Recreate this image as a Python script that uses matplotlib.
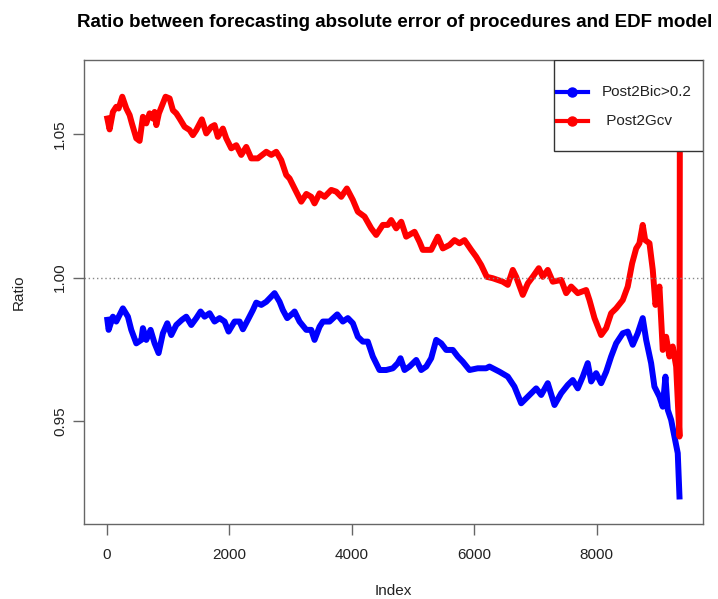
import matplotlib
matplotlib.use("Agg")
import matplotlib.pyplot as plt
from matplotlib.patches import Rectangle
from matplotlib.lines import Line2D

plt.rcParams['font.family'] = ['Liberation Sans', 'DejaVu Sans']

# Post2Bic>0.2 ratio
bic_idx = [7, 28, 98, 153, 261, 343, 398, 480, 562, 588, 643, 713, 779, 844, 914,
           986, 1051, 1133, 1225, 1296, 1378, 1460, 1530, 1595, 1677, 1758, 1840,
           1922, 1987, 2085, 2167, 2221, 2302, 2384, 2439, 2521, 2603, 2738, 2820,
           2874, 2945, 3037, 3065, 3146, 3256, 3337, 3391, 3473, 3527, 3636, 3762,
           3853, 3935, 4017, 4098, 4180, 4261, 4343, 4452, 4562, 4670, 4751, 4795,
           4861, 4942, 5052, 5133, 5215, 5296, 5378, 5460, 5541, 5649, 5731, 5812,
           5922, 6057, 6194, 6248, 6411, 6547, 6656, 6766, 6874, 7011, 7093, 7200,
           7310, 7419, 7527, 7608, 7690, 7772, 7853, 7909, 7990, 8072, 8154, 8235,
           8317, 8425, 8506, 8588, 8669, 8751, 8807, 8888, 8942, 9024, 9078, 9122,
           9160, 9215, 9269, 9323, 9351]
bic_val = [0.9853, 0.9818, 0.9864, 0.9847, 0.9893, 0.9864, 0.9818, 0.9771, 0.9783,
           0.9824, 0.9783, 0.9818, 0.9771, 0.9737, 0.9806, 0.9841, 0.9800, 0.9835,
           0.9853, 0.9864, 0.9835, 0.9859, 0.9882, 0.9864, 0.9876, 0.9847, 0.9859,
           0.9847, 0.9812, 0.9847, 0.9847, 0.9820, 0.9853, 0.9887, 0.9913, 0.9905,
           0.9916, 0.9946, 0.9916, 0.9887, 0.9859, 0.9876, 0.9882, 0.9847, 0.9818,
           0.9818, 0.9783, 0.9829, 0.9847, 0.9847, 0.9872, 0.9847, 0.9859, 0.9841,
           0.9794, 0.9777, 0.9777, 0.9725, 0.9678, 0.9678, 0.9684, 0.9702, 0.9719,
           0.9678, 0.9690, 0.9713, 0.9678, 0.9690, 0.9719, 0.9783, 0.9771, 0.9748,
           0.9748, 0.9725, 0.9707, 0.9678, 0.9684, 0.9684, 0.9690, 0.9672, 0.9655,
           0.9620, 0.9562, 0.9585, 0.9614, 0.9591, 0.9632, 0.9556, 0.9597, 0.9626,
           0.9643, 0.9614, 0.9655, 0.9702, 0.9638, 0.9667, 0.9632, 0.9672, 0.9725,
           0.9771, 0.9806, 0.9812, 0.9766, 0.9806, 0.9859, 0.9783, 0.9702, 0.9620,
           0.9585, 0.9550, 0.9655, 0.9539, 0.9504, 0.9446, 0.9388, 0.9237]

# Post2Gcv ratio
gcv_idx = [7, 44, 98, 153, 191, 251, 317, 371, 408, 480, 534, 588, 643, 697, 751,
           779, 807, 849, 958, 1024, 1078, 1133, 1187, 1269, 1350, 1404, 1460, 1551,
           1623, 1705, 1758, 1812, 1894, 1949, 2031, 2113, 2194, 2276, 2358, 2465,
           2603, 2684, 2766, 2847, 2929, 2983, 3065, 3174, 3257, 3337, 3391, 3473,
           3555, 3664, 3745, 3827, 3919, 4017, 4098, 4208, 4317, 4398, 4506, 4588,
           4643, 4725, 4807, 4888, 5024, 5105, 5159, 5296, 5404, 5486, 5595, 5677,
           5758, 5840, 5949, 6031, 6113, 6204, 6302, 6465, 6547, 6629, 6684, 6792,
           6874, 6955, 7053, 7119, 7200, 7282, 7419, 7501, 7582, 7690, 7827, 7881,
           7963, 8072, 8154, 8235, 8317, 8425, 8506, 8578, 8644, 8697, 8751, 8791,
           8861, 8915, 8959, 9024, 9078, 9133, 9187, 9241, 9297, 9351, 9358]
gcv_val = [1.0555, 1.0517, 1.0578, 1.0596, 1.0590, 1.0631, 1.0590, 1.0567, 1.0538,
           1.0486, 1.0477, 1.0561, 1.0538, 1.0573, 1.0555, 1.0578, 1.0532, 1.0573,
           1.0631, 1.0625, 1.0584, 1.0573, 1.0555, 1.0526, 1.0515, 1.0497, 1.0515,
           1.0552, 1.0503, 1.0526, 1.0532, 1.0491, 1.0520, 1.0486, 1.0451, 1.0462,
           1.0428, 1.0456, 1.0416, 1.0416, 1.0439, 1.0428, 1.0439, 1.0410, 1.0358,
           1.0346, 1.0311, 1.0265, 1.0292, 1.0282, 1.0259, 1.0294, 1.0282, 1.0306,
           1.0300, 1.0282, 1.0311, 1.0271, 1.0230, 1.0213, 1.0172, 1.0149, 1.0184,
           1.0184, 1.0201, 1.0172, 1.0195, 1.0143, 1.0160, 1.0125, 1.0097, 1.0097,
           1.0143, 1.0102, 1.0114, 1.0131, 1.0120, 1.0131, 1.0097, 1.0073, 1.0044,
           1.0003, 0.9998, 0.9986, 0.9975, 1.0027, 1.0003, 0.9940, 0.9980, 1.0003,
           1.0033, 1.0003, 1.0027, 0.9986, 0.9992, 0.9946, 0.9969, 0.9946, 0.9957,
           0.9922, 0.9859, 0.9800, 0.9824, 0.9876, 0.9893, 0.9922, 0.9969, 1.0050,
           1.0102, 1.0120, 1.0184, 1.0131, 1.0120, 1.0027, 0.9905, 0.9969, 0.9748,
           0.9794, 0.9725, 0.9760, 0.9690, 0.9446, 1.0690]

series_names = ["Post2Bic>0.2", " Post2Gcv"]
series_colors = ["blue", "red"]
x_ticks = [0, 2000, 4000, 6000, 8000]
y_ticks = [0.95, 1.00, 1.05]

fig = plt.figure(figsize=(7.18, 5.99), dpi=100)
ax = fig.add_axes([0.117, 0.1252, 0.862, 0.7746])

ax.plot(bic_idx, bic_val, color=series_colors[0], lw=4.3, solid_joinstyle='round')
ax.plot(gcv_idx, gcv_val, color=series_colors[1], lw=4.3, solid_joinstyle='round')
ax.axhline(1.0, color='#888888', lw=1, ls=(0, (1, 2)))

ax.set_xlim(-374, 9734)
ax.set_ylim(0.9141, 1.0759)
ax.set_xticks(x_ticks)
ax.set_xticklabels([str(t) for t in x_ticks])
ax.set_yticks(y_ticks)
ax.set_yticklabels(["%.2f" % t for t in y_ticks], rotation=90, va='center')
ax.tick_params(direction='out', length=8, width=1, color='#666666', labelsize=11,
               labelcolor='#222222')
ax.tick_params(axis='x', pad=9)
ax.tick_params(axis='y', pad=4)
for s in ax.spines.values():
    s.set_color('#666666')
    s.set_linewidth(1)

ax.set_xlabel("Index", fontsize=11, labelpad=16, color='#222222')
ax.set_ylabel("Ratio", fontsize=11, labelpad=20, color='#222222')
fig.text(0.55, 0.963, "Ratio between forecasting absolute error of procedures and EDF model",
         ha='center', va='center', fontsize=13.5, fontweight='bold')

# legend box drawn like R's legend()
ax.add_patch(Rectangle((0.759, 0.804), 0.241, 0.196, transform=ax.transAxes,
                       facecolor='white', edgecolor='#333333', lw=1, zorder=5))
row_y = [0.931, 0.869]
text_x = [0.837, 0.837]
for name, col, yy, tx in zip(series_names, series_colors, row_y, text_x):
    ax.add_line(Line2D([0.764, 0.814], [yy, yy], transform=ax.transAxes, color=col,
                       lw=3, zorder=6))
    ax.add_line(Line2D([0.789], [yy], transform=ax.transAxes, color=col, marker='o',
                       markersize=6.5, zorder=6))
    ax.text(tx, yy, name, transform=ax.transAxes, fontsize=11, va='center',
            ha='left', color='#222222', zorder=7)

fig.savefig("out.png", dpi=100)
